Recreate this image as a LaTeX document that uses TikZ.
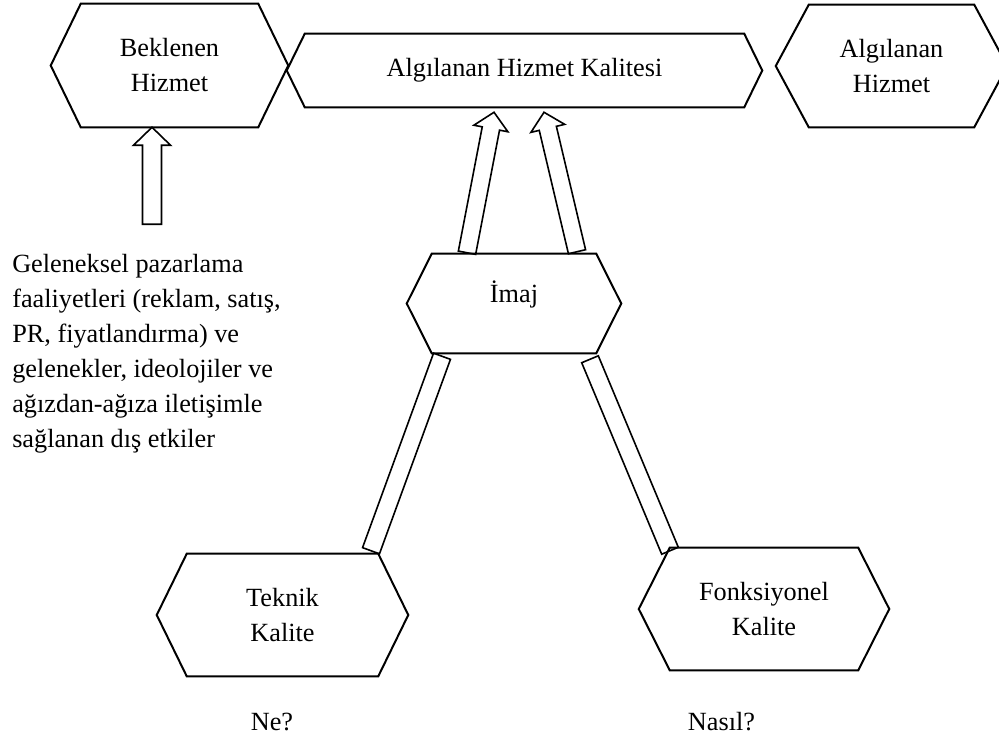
\documentclass[tikz,border=0pt]{standalone}
\usepackage{fontspec}
\setmainfont{Liberation Serif}
\usetikzlibrary{calc}
\tikzset{
  hexbox/.style={draw=none, inner sep=0pt, align=center, font=\fontsize{19.7}{26.25}\selectfont},
  hexline/.style={draw=black, line width=1.5pt, line join=miter},
  arrline/.style={draw=black, line width=1.2pt, line join=miter},
  plain/.style={inner sep=0pt, font=\fontsize{19.7}{26.25}\selectfont},
}
\newcommand\hexdraw[2]{%
  \draw[hexline] (#1.west) -- ($(#1.north west)+(#2,0)$) -- ($(#1.north east)+(-#2,0)$) -- (#1.east) -- ($(#1.south east)+(-#2,0)$) -- ($(#1.south west)+(#2,0)$) -- cycle;}
\newcommand\blockarr[5]{%
  \coordinate (hb) at ($(#2)!#5!(#1)$);
  \draw[arrline] ($(#1)!#3!90:(#2)$) -- ($(hb)!#3!90:(#2)$) -- ($(hb)!#4!90:(#2)$) -- (#2) -- ($(hb)!#4!-90:(#2)$) -- ($(hb)!#3!-90:(#2)$) -- ($(#1)!#3!-90:(#2)$) -- cycle;}
\newcommand\barrect[3]{%
  \draw[arrline] ($(#1)!#3!90:(#2)$) -- ($(#2)!#3!-90:(#1)$) -- ($(#2)!#3!90:(#1)$) -- ($(#1)!#3!-90:(#2)$) -- cycle;}
\begin{document}
\begin{tikzpicture}[x=0.75pt,y=-0.75pt]
\useasboundingbox (0,0) rectangle (999,738);
% hexagons
\node[hexbox, minimum width=237*0.75pt, minimum height=123*0.75pt] (bek) at (169.5,65.5) {Beklenen\\Hizmet};
\node[hexbox, minimum width=475*0.75pt, minimum height=73*0.75pt] (ahk) at (524.5,70.5) {Algılanan Hizmet Kalitesi};
\node[hexbox, minimum width=231*0.75pt, minimum height=122*0.75pt] (ah) at (891.5,66) {Algılanan\\Hizmet};
\node[hexbox, minimum width=214*0.75pt, minimum height=99*0.75pt] (imaj) at (514,303.5) {};
\node[plain, anchor=base] (imajt) at ($(imaj)+(0,-1.5)$) {İmaj};
\node[hexbox, minimum width=251*0.75pt, minimum height=122*0.75pt] (tek) at (282.5,615) {Teknik\\Kalite};
\node[hexbox, minimum width=250*0.75pt, minimum height=122*0.75pt] (fonk) at (764,609) {Fonksiyonel\\Kalite};
\hexdraw{bek}{30}
\hexdraw{ahk}{18}
\hexdraw{ah}{33}
\hexdraw{imaj}{25}
\hexdraw{tek}{30}
\hexdraw{fonk}{31}
% free text
\node[plain, anchor=north west, align=left] (ext) at (12,254) {Geleneksel pazarlama\\faaliyetleri (reklam, satış,\\PR, fiyatlandırma) ve\\gelenekler, ideolojiler ve\\ağızdan-ağıza iletişimle\\sağlanan dış etkiler};
\node[plain, anchor=base] (ne) at (272,730) {Ne?};
\node[plain, anchor=base] (nasil) at (721.5,730) {Nasıl?};
% arrows
\coordinate (a1t) at ($(bek.south)+(-17.5,97)$);
\coordinate (a1h) at ($(bek.south)+(-17.5,0)$);
\blockarr{a1t}{a1h}{7.1pt}{13.9pt}{13.5pt}
\coordinate (a2t) at ($(imaj.north)+(-47,-1)$);
\coordinate (a2h) at ($(ahk.south)+(-30.5,5)$);
\blockarr{a2t}{a2h}{6.6pt}{13pt}{12.4pt}
\coordinate (a3t) at ($(imaj.north)+(63,-2)$);
\coordinate (a3h) at ($(ahk.south)+(19.5,5)$);
\blockarr{a3t}{a3h}{6.6pt}{13pt}{12.4pt}
% bars
\coordinate (b1t) at ($(imaj.south)+(-72,3)$);
\coordinate (b1b) at ($(tek.north)+(88.5,-3)$);
\barrect{b1t}{b1b}{6.75pt}
\coordinate (b2t) at ($(imaj.south)+(76,6)$);
\coordinate (b2b) at ($(fonk.north)+(-94,3)$);
\barrect{b2t}{b2b}{6.75pt}
\end{tikzpicture}
\end{document}
